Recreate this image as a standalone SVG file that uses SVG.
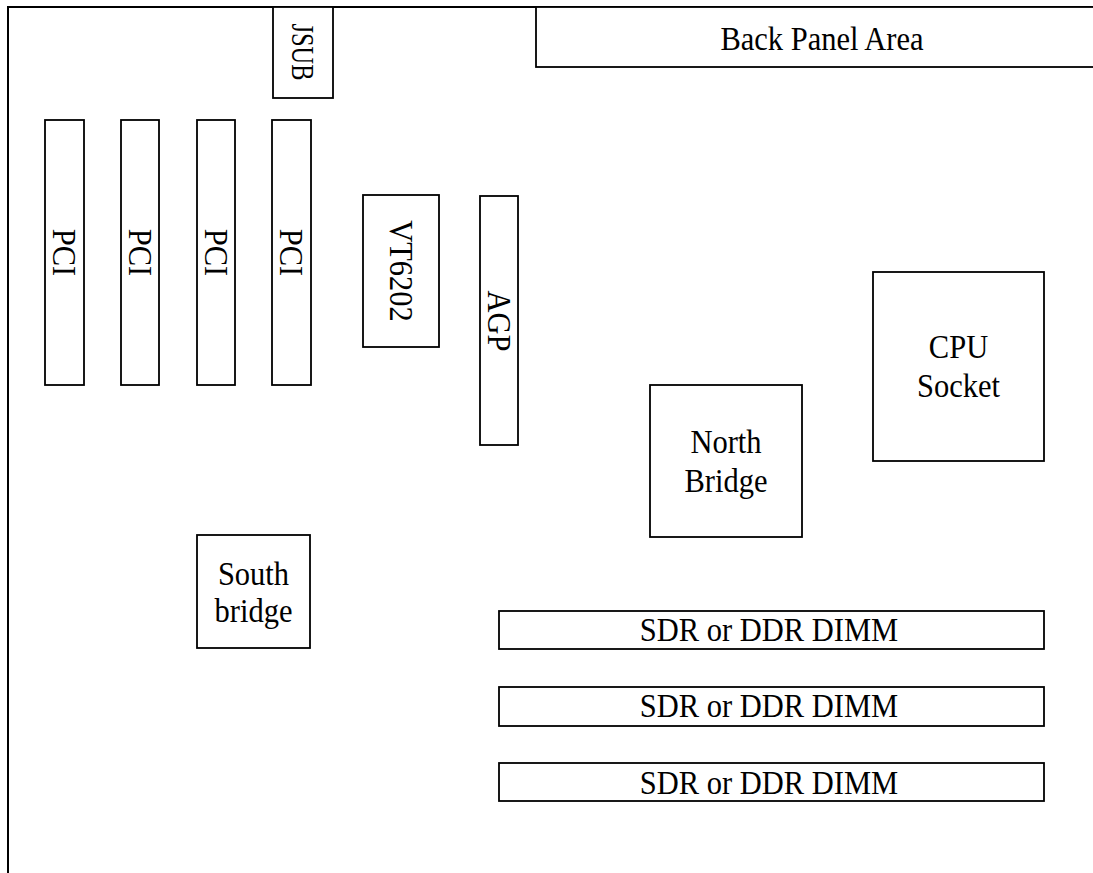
<svg xmlns="http://www.w3.org/2000/svg" width="1093" height="873" viewBox="0 0 1093 873">
<style>
.box{fill:#fff;stroke:#000;stroke-width:1.8}
.frame{fill:none;stroke:#000;stroke-width:2}
text{font-family:"Liberation Serif","Times New Roman",serif;font-size:30.5px;fill:#000;text-anchor:middle}
</style>
<rect width="1093" height="873" fill="#fff"/>
<g id="frame">
<path class="frame" d="M8,873 V7 H1093"/>
</g>
<g id="back-panel">
<rect class="box" x="536" y="7" width="570" height="60"/>
<text transform="translate(822,50) scale(1,1.1)">Back Panel Area</text>
</g>
<g id="jsub">
<rect class="box" x="273" y="7" width="60" height="91"/>
<text transform="translate(303,52) rotate(90)" x="0" y="11" style="font-size:32px" textLength="57" lengthAdjust="spacingAndGlyphs">JSUB</text>
</g>
<g id="pci1">
<rect class="box" x="45" y="120" width="39" height="265"/>
<text transform="translate(64.5,252.5) rotate(90) scale(1,1.1)" y="10">PCI</text>
</g>
<g id="pci2">
<rect class="box" x="121" y="120" width="38" height="265"/>
<text transform="translate(140,252.5) rotate(90) scale(1,1.1)" y="10">PCI</text>
</g>
<g id="pci3">
<rect class="box" x="197" y="120" width="38" height="265"/>
<text transform="translate(216,252.5) rotate(90) scale(1,1.1)" y="10">PCI</text>
</g>
<g id="pci4">
<rect class="box" x="272" y="120" width="39" height="265"/>
<text transform="translate(291.5,252.5) rotate(90) scale(1,1.1)" y="10">PCI</text>
</g>
<g id="vt6202">
<rect class="box" x="363" y="195" width="76" height="152"/>
<text transform="translate(401,271) rotate(90) scale(1,1.1)" y="10">VT6202</text>
</g>
<g id="agp">
<rect class="box" x="480" y="196" width="38" height="249"/>
<text transform="translate(499,321) rotate(90) scale(1,1.1)" y="10">AGP</text>
</g>
<g id="cpu">
<rect class="box" x="873" y="272" width="171" height="189"/>
<text transform="translate(958.5,358) scale(1,1.1)">CPU</text>
<text transform="translate(958.5,397) scale(1,1.1)">Socket</text>
</g>
<g id="north-bridge">
<rect class="box" x="650" y="385" width="152" height="152"/>
<text transform="translate(726,453) scale(1,1.1)">North</text>
<text transform="translate(726,492) scale(1,1.1)">Bridge</text>
</g>
<g id="south-bridge">
<rect class="box" x="197" y="535" width="113" height="113"/>
<text transform="translate(253.5,585) scale(1,1.1)">South</text>
<text transform="translate(253.5,622) scale(1,1.1)">bridge</text>
</g>
<g id="dimm1">
<rect class="box" x="499" y="611" width="545" height="38"/>
<text transform="translate(769,641) scale(1,1.1)">SDR or DDR DIMM</text>
</g>
<g id="dimm2">
<rect class="box" x="499" y="687" width="545" height="39"/>
<text transform="translate(769,717) scale(1,1.1)">SDR or DDR DIMM</text>
</g>
<g id="dimm3">
<rect class="box" x="499" y="763" width="545" height="38"/>
<text transform="translate(769,794) scale(1,1.1)">SDR or DDR DIMM</text>
</g>
<g id="connectors"></g>
</svg>
